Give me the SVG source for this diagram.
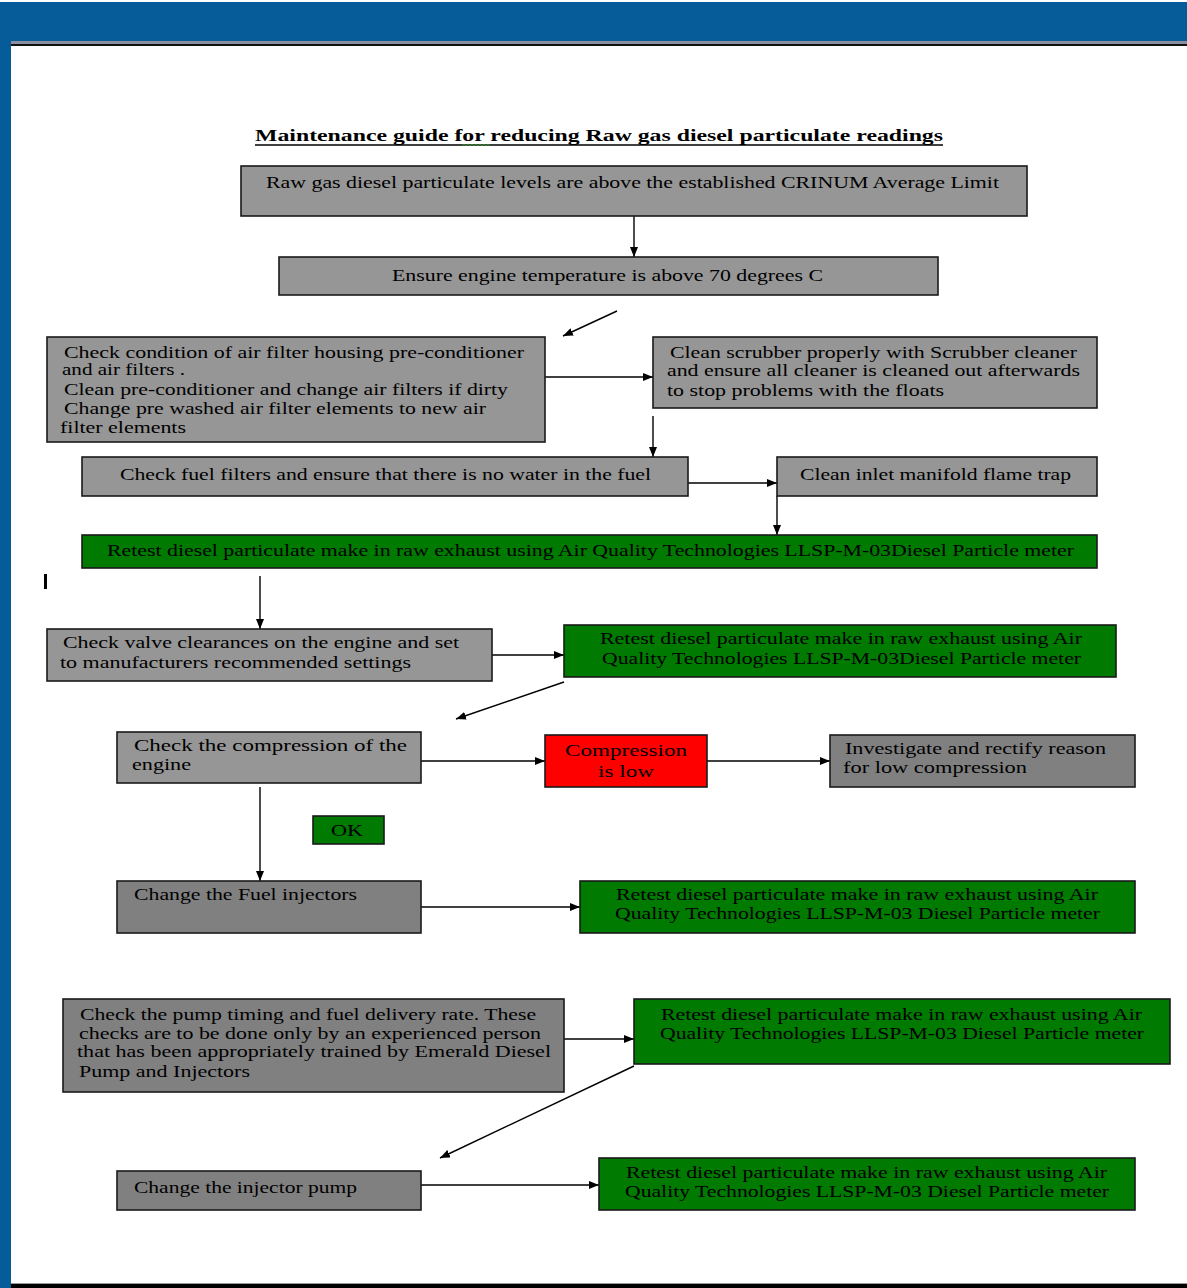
<svg xmlns="http://www.w3.org/2000/svg" width="1187" height="1288" viewBox="0 0 1187 1288">
<defs>
<style>
.bl{fill:#969696;stroke:#1a1a1a;stroke-width:1.6}
.bd{fill:#808080;stroke:#1a1a1a;stroke-width:1.6}
.bg{fill:#007a00;stroke:#1a1a1a;stroke-width:1.6}
.br{fill:#ff0000;stroke:#1a1a1a;stroke-width:1.6}
text{font-family:"Liberation Serif","Times New Roman",serif;font-size:16px;fill:#000}
.t{font-weight:bold;font-size:17px}
.c{stroke:#000;stroke-width:1.4;fill:none;marker-end:url(#ah)}
</style>
<marker id="ah" markerUnits="userSpaceOnUse" markerWidth="10" markerHeight="8" refX="10" refY="4" orient="auto">
<path d="M0,0 L10,4 L0,8 z" fill="#000"/>
</marker>
</defs>
<rect x="0" y="0" width="1187" height="1288" fill="#fff"/>
<g id="frame">
<rect x="0" y="2" width="1187" height="39" fill="#055c98"/>
<rect x="0" y="2" width="11" height="1286" fill="#055c98"/>
<rect x="11" y="41" width="1176" height="3" fill="#8a8fa0"/>
<rect x="11" y="44" width="1176" height="2" fill="#111"/>
<rect x="11" y="1283" width="1176" height="1" fill="#999"/>
<rect x="11" y="1284" width="1176" height="4" fill="#000"/>
</g>
<g id="title">
<text class="t" x="255" y="141" textLength="688" lengthAdjust="spacingAndGlyphs">Maintenance guide for reducing Raw gas diesel particulate readings</text>
<line x1="255" y1="145" x2="943" y2="145" stroke="#000" stroke-width="1.5"/>
<path d="M462,146 l2,-2 l2,2 l2,-2 l2,2 l2,-2 l2,2 l2,-2 l2,2 l2,-2 l2,2 l2,-2 l2,2 l2,-2 l2,2" stroke="#2a9a2a" stroke-width="0.8" fill="none"/>
</g>
<g id="connectors">
<line class="c" x1="634" y1="216" x2="634" y2="257"/>
<line class="c" x1="617" y1="311" x2="563" y2="336"/>
<line class="c" x1="545" y1="377" x2="653" y2="377"/>
<line class="c" x1="653" y1="416" x2="653" y2="457"/>
<line class="c" x1="688" y1="483" x2="777" y2="483"/>
<line class="c" x1="777" y1="496" x2="777" y2="535"/>
<line class="c" x1="260" y1="576" x2="260" y2="629"/>
<line class="c" x1="492" y1="655" x2="564" y2="655"/>
<line class="c" x1="564" y1="682" x2="456" y2="719"/>
<line class="c" x1="421" y1="761" x2="545" y2="761"/>
<line class="c" x1="707" y1="761" x2="830" y2="761"/>
<line class="c" x1="260" y1="787" x2="260" y2="881"/>
<line class="c" x1="421" y1="907" x2="580" y2="907"/>
<line class="c" x1="564" y1="1039" x2="634" y2="1039"/>
<line class="c" x1="634" y1="1066" x2="440" y2="1158"/>
<line class="c" x1="421" y1="1185" x2="599" y2="1185"/>
</g>
<rect id="cursor-mark" x="44" y="574" width="3" height="15" fill="#000"/>
<g id="n1">
<rect class="bl" x="241" y="166" width="786" height="50"/>
<text x="266" y="188" textLength="733" lengthAdjust="spacingAndGlyphs">Raw gas diesel particulate levels are above the established CRINUM Average Limit</text>
</g>
<g id="n2">
<rect class="bl" x="279" y="257" width="659" height="38"/>
<text x="392" y="281" textLength="431" lengthAdjust="spacingAndGlyphs">Ensure engine temperature is above 70 degrees C</text>
</g>
<g id="n3">
<rect class="bl" x="47" y="337" width="498" height="105"/>
<text x="64" y="358" textLength="460" lengthAdjust="spacingAndGlyphs">Check condition of air filter housing pre-conditioner</text>
<text x="62" y="375" textLength="123" lengthAdjust="spacingAndGlyphs">and air filters .</text>
<text x="64" y="395" textLength="444" lengthAdjust="spacingAndGlyphs">Clean pre-conditioner and change air filters if dirty</text>
<text x="64" y="414" textLength="422" lengthAdjust="spacingAndGlyphs">Change pre washed air filter elements to new air</text>
<text x="60" y="433" textLength="126" lengthAdjust="spacingAndGlyphs">filter elements</text>
</g>
<g id="n4">
<rect class="bl" x="653" y="337" width="444" height="71"/>
<text x="670" y="358" textLength="407" lengthAdjust="spacingAndGlyphs">Clean scrubber properly with Scrubber cleaner</text>
<text x="667" y="376" textLength="413" lengthAdjust="spacingAndGlyphs">and ensure all cleaner is cleaned out afterwards</text>
<text x="667" y="396" textLength="277" lengthAdjust="spacingAndGlyphs">to stop problems with the floats</text>
</g>
<g id="n5">
<rect class="bl" x="82" y="457" width="606" height="39"/>
<text x="120" y="480" textLength="531" lengthAdjust="spacingAndGlyphs">Check fuel filters and ensure that there is no water in the fuel</text>
</g>
<g id="n6">
<rect class="bl" x="777" y="457" width="320" height="39"/>
<text x="800" y="480" textLength="271" lengthAdjust="spacingAndGlyphs">Clean inlet manifold flame trap</text>
</g>
<g id="n7">
<rect class="bg" x="82" y="535" width="1015" height="33"/>
<text x="107" y="556" textLength="967" lengthAdjust="spacingAndGlyphs">Retest diesel particulate make in raw exhaust using Air Quality Technologies LLSP-M-03Diesel Particle meter</text>
</g>
<g id="n8">
<rect class="bl" x="47" y="629" width="445" height="52"/>
<text x="63" y="648" textLength="396" lengthAdjust="spacingAndGlyphs">Check valve clearances on the engine and set</text>
<text x="60" y="668" textLength="351" lengthAdjust="spacingAndGlyphs">to manufacturers recommended settings</text>
</g>
<g id="n9">
<rect class="bg" x="564" y="625" width="552" height="52"/>
<text x="600" y="644" textLength="482" lengthAdjust="spacingAndGlyphs">Retest diesel particulate make in raw exhaust using Air</text>
<text x="602" y="664" textLength="479" lengthAdjust="spacingAndGlyphs">Quality Technologies LLSP-M-03Diesel Particle meter</text>
</g>
<g id="n10">
<rect class="bl" x="117" y="732" width="304" height="51"/>
<text x="134" y="751" textLength="273" lengthAdjust="spacingAndGlyphs">Check  the  compression  of  the</text>
<text x="132" y="770" textLength="59" lengthAdjust="spacingAndGlyphs">engine</text>
</g>
<g id="n11">
<rect class="br" x="545" y="735" width="162" height="52"/>
<text x="565" y="756" textLength="122" lengthAdjust="spacingAndGlyphs" fill="#1a0000">Compression</text>
<text x="598" y="777" textLength="56" lengthAdjust="spacingAndGlyphs" fill="#1a0000">is  low</text>
</g>
<g id="n12">
<rect class="bd" x="830" y="735" width="305" height="52"/>
<text x="845" y="754" textLength="261" lengthAdjust="spacingAndGlyphs">Investigate and rectify reason</text>
<text x="843" y="773" textLength="184" lengthAdjust="spacingAndGlyphs">for low compression</text>
</g>
<g id="n13">
<rect class="bg" x="313" y="816" width="71" height="28"/>
<text x="331" y="836" textLength="32" lengthAdjust="spacingAndGlyphs">OK</text>
</g>
<g id="n14">
<rect class="bd" x="117" y="881" width="304" height="52"/>
<text x="134" y="900" textLength="223" lengthAdjust="spacingAndGlyphs">Change the Fuel injectors</text>
</g>
<g id="n15">
<rect class="bg" x="580" y="881" width="555" height="52"/>
<text x="616" y="900" textLength="482" lengthAdjust="spacingAndGlyphs">Retest diesel particulate make in raw exhaust using Air</text>
<text x="615" y="919" textLength="485" lengthAdjust="spacingAndGlyphs">Quality Technologies LLSP-M-03 Diesel Particle meter</text>
</g>
<g id="n16">
<rect class="bd" x="63" y="999" width="501" height="93"/>
<text x="80" y="1020" textLength="456" lengthAdjust="spacingAndGlyphs">Check the pump timing and fuel delivery rate. These</text>
<text x="79" y="1039" textLength="462" lengthAdjust="spacingAndGlyphs">checks are to be done only by an experienced person</text>
<text x="77" y="1057" textLength="474" lengthAdjust="spacingAndGlyphs">that has been appropriately trained by Emerald Diesel</text>
<text x="79" y="1077" textLength="171" lengthAdjust="spacingAndGlyphs">Pump and Injectors</text>
</g>
<g id="n17">
<rect class="bg" x="634" y="999" width="536" height="65"/>
<text x="661" y="1020" textLength="481" lengthAdjust="spacingAndGlyphs">Retest diesel particulate make in raw exhaust using Air</text>
<text x="660" y="1039" textLength="484" lengthAdjust="spacingAndGlyphs">Quality Technologies LLSP-M-03 Diesel Particle meter</text>
</g>
<g id="n18">
<rect class="bd" x="117" y="1171" width="304" height="39"/>
<text x="134" y="1193" textLength="223" lengthAdjust="spacingAndGlyphs">Change the injector pump</text>
</g>
<g id="n19">
<rect class="bg" x="599" y="1158" width="536" height="52"/>
<text x="626" y="1178" textLength="481" lengthAdjust="spacingAndGlyphs">Retest diesel particulate make in raw exhaust using Air</text>
<text x="625" y="1197" textLength="484" lengthAdjust="spacingAndGlyphs">Quality Technologies LLSP-M-03 Diesel Particle meter</text>
</g>
</svg>
